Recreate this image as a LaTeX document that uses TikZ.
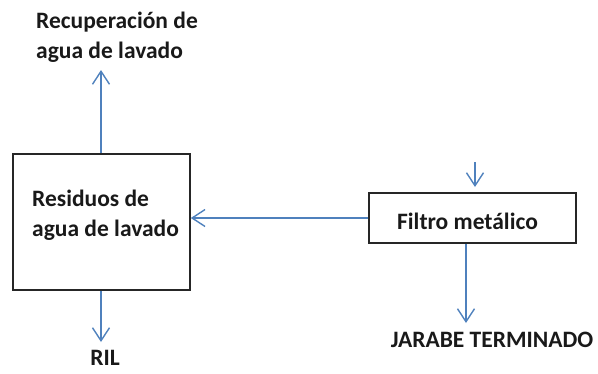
\documentclass[tikz,border=0pt]{standalone}
\usepackage{fontspec}
\setmainfont{Carlito}
\usetikzlibrary{arrows.meta}
\definecolor{flow}{RGB}{79,129,189}
\tikzset{
  x=1pt, y=-1pt,
  box/.style={draw=black!85, line width=1.6pt, inner sep=0pt},
  lbl/.style={font=\bfseries\fontsize{23.5}{29.5}\selectfont, inner sep=0pt, align=left, text=black!90},
  flowline/.style={draw=flow, line width=1.5pt, -{Straight Barb[length=13pt,width=17pt,line width=1.4pt]}},
}
\begin{document}
\begin{tikzpicture}
\useasboundingbox (0,0) rectangle (598,373);
\node[box, minimum width=177pt, minimum height=136pt] (res) at (101.5,222) {};
\node[lbl, anchor=west] (restext) at (32,215) {Residuos de\\agua de lavado};
\node[box, minimum width=207pt, minimum height=50pt] (fil) at (472.5,218) {};
\node[lbl, anchor=center] (filtext) at (467.5,221) {Filtro metálico};
\node[lbl, anchor=west] (rec) at (36,37) {Recuperación de\\agua de lavado};
\node[lbl, align=center, text depth=0pt, anchor=base] (ril) at (105,365) {RIL};
\node[lbl] (jar) at (492,340) {JARABE TERMINADO};
\coordinate (recend) at (101,70);
\coordinate (rilend) at (101,342);
\coordinate (jarend) at (466,323);
\coordinate (intop) at (475,162);
\coordinate (inend) at (475,187);
\draw[flowline] (res.north -| recend) -- (recend);
\draw[flowline] (res.south -| rilend) -- (rilend);
\draw[flowline] (fil.west) -- (res.east |- fil.west);
\draw[flowline] (fil.south -| jarend) -- (jarend);
\draw[flowline] (intop) -- (inend);
\end{tikzpicture}
\end{document}
